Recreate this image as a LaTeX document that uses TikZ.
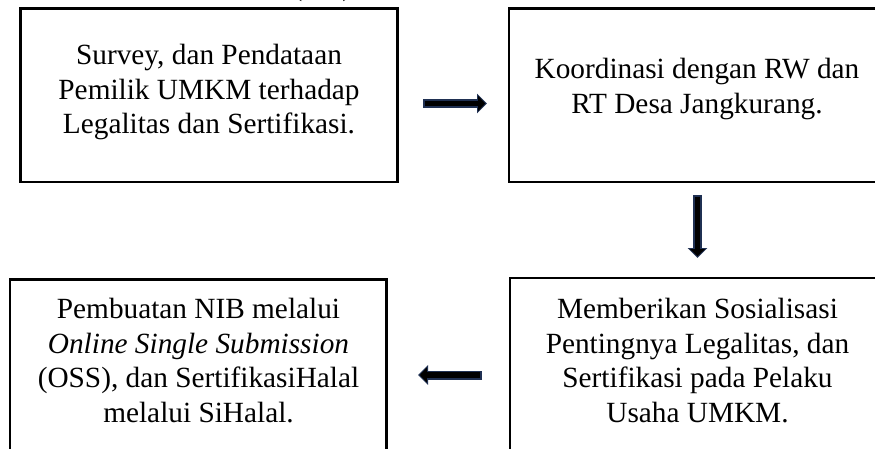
\documentclass[tikz,border=0pt]{standalone}
\usepackage{fontspec}
\setmainfont{Liberation Serif}
\usetikzlibrary{arrows.meta}
\definecolor{arrnavy}{RGB}{31,48,82}
\begin{document}
\begin{tikzpicture}[x=1pt,y=-1pt,
  box/.style={draw=black, line width=2.6pt, inner sep=0pt, outer sep=0pt},
  txt/.style={align=center, inner sep=0pt, font=\fontsize{29.3}{34.8}\selectfont},
  blockarrow/.style={line width=5.5pt, draw=black, shorten <=1.6pt, shorten >=1.8pt,
     -{Triangle[length=7pt,width=14.5pt]},
     preaction={draw=arrnavy, line width=9pt, shorten <=0pt, shorten >=0pt,
       -{Triangle[length=10pt,width=19pt]}}}
]
\useasboundingbox (0,0) rectangle (875,449);
\clip (0,0) rectangle (875,449);

% partially visible title text at the top edge
\node[txt, anchor=base] (ttl) at (322.5,-4.5) {(\hspace*{40pt})};

% boxes
\node[box, minimum width=377pt, minimum height=173.5pt] (b1) at (209,95.25) {};
\node[box, minimum width=376pt, minimum height=173.5pt] (b2) at (697,95.25) {};
\node[box, minimum width=376.7pt, minimum height=200pt] (b3) at (198.35,379.3) {};
\node[box, minimum width=376pt, minimum height=200pt] (b4) at (698,378) {};

% texts
\node[txt] (t1) at (209,92.1) {Survey, dan Pendataan\\Pemilik UMKM terhadap\\Legalitas dan Sertifikasi.};
\node[txt] (t2) at (697,88.6) {Koordinasi dengan RW dan\\RT Desa Jangkurang.};
\node[txt] (t3) at (198.5,360.5) {Pembuatan NIB melalui\\\textit{Online Single Submission}\\(OSS), dan SertifikasiHalal\\melalui SiHalal.};
\node[txt] (t4) at (697.5,360.5) {Memberikan Sosialisasi\\Pentingnya Legalitas, dan\\Sertifikasi pada Pelaku\\Usaha UMKM.};

% arrows
\coordinate (r1) at (423,103.5);
\coordinate (r2) at (487,103.5);
\coordinate (d1) at (697.5,195);
\coordinate (d2) at (697.5,258);
\coordinate (l1) at (482,375);
\coordinate (l2) at (418,375);
\draw[blockarrow] (r1) -- (r2);
\draw[blockarrow] (d1) -- (d2);
\draw[blockarrow] (l1) -- (l2);
\end{tikzpicture}
\end{document}
